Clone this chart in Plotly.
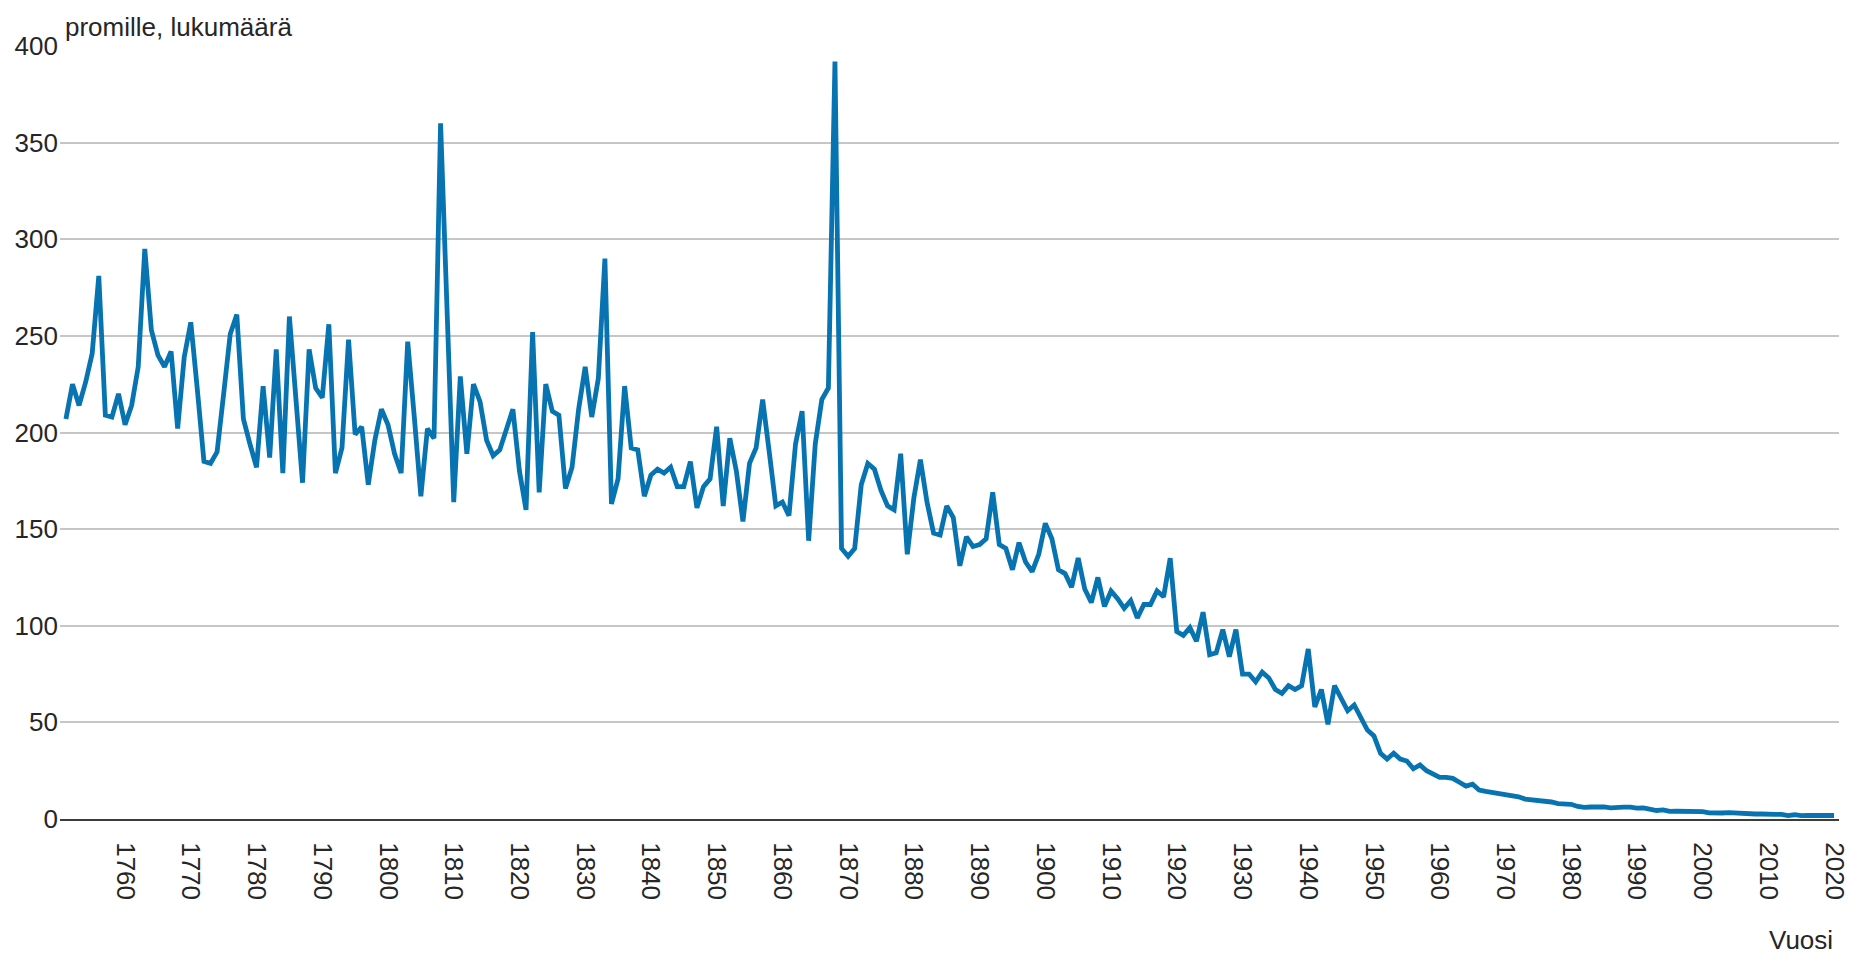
import plotly.graph_objects as go

years = list(range(1751, 2021))

values = [
    # 1751-1760
    207, 225, 214, 226, 241, 281, 209, 208, 220, 204,
    # 1761-1770
    214, 234, 295, 253, 240, 234, 242, 202, 239, 257,
    # 1771-1780
    222, 185, 184, 190, 220, 251, 261, 207, 194, 182,
    # 1781-1790
    224, 187, 243, 179, 260, 218, 174, 243, 223, 218,
    # 1791-1800
    256, 179, 192, 248, 199, 203, 173, 196, 212, 204,
    # 1801-1810
    189, 179, 247, 208, 167, 202, 197, 360, 262, 164,
    # 1811-1820
    229, 189, 225, 216, 196, 188, 191, 201, 212, 180,
    # 1821-1830
    160, 252, 169, 225, 211, 209, 171, 182, 212, 234,
    # 1831-1840
    208, 228, 290, 163, 176, 224, 192, 191, 167, 178,
    # 1841-1850
    181, 179, 182, 172, 172, 185, 161, 172, 176, 203,
    # 1851-1860
    162, 197, 180, 154, 184, 192, 217, 190, 162, 164,
    # 1861-1870
    157, 194, 211, 144, 194, 217, 223, 392, 140, 136,
    # 1871-1880
    140, 173, 184, 181, 170, 162, 160, 189, 137, 166,
    # 1881-1890
    186, 164, 148, 147, 162, 156, 131, 146, 141, 142,
    # 1891-1900
    145, 169, 142, 140, 129, 143, 133, 128, 137, 153,
    # 1901-1910
    145, 129, 127, 120, 135, 119, 112, 125, 110, 118,
    # 1911-1920
    114, 109, 113, 104, 111, 111, 118, 115, 135, 97,
    # 1921-1930
    95, 99, 92, 107, 85, 86, 98, 84, 98, 75,
    # 1931-1940
    75, 71, 76, 73, 67, 65, 69, 67, 69, 88,
    # 1941-1950
    58, 67, 49, 69, 63, 56, 59, 52, 46, 43,
    # 1951-1960
    34, 31, 34, 31, 30, 26, 28, 25, 23, 21.5,
    # 1961-1970
    21.5, 21, 19, 17, 18, 15, 14.3, 13.7, 13.4, 13,
    # 1971-1980
    12.3, 11.5, 10.3, 10, 9.5, 9, 8.8, 8, 7.6, 7.6,
    # 1981-1990
    6.5, 6, 6.2, 6.5, 6.3, 5.8, 6.2, 6.1, 6.1, 5.6,
    # 1991-2000
    5.8, 5.2, 4.4, 4.7, 3.9, 4.0, 3.9, 4.2, 3.6, 3.8,
    # 2001-2010
    3.2, 3.0, 3.1, 3.3, 3.0, 2.8, 2.7, 2.6, 2.6, 2.3,
    # 2011-2020
    2.4, 2.4, 1.8, 2.2, 1.7, 1.9, 2.0, 2.1, 2.1, 1.8,
]
assert len(values) == len(years)

x_ticks = list(range(1760, 2021, 10))
y_ticks = list(range(0, 401, 50))

y_title = "promille, lukumäärä"
x_title = "Vuosi"

FONT = "Arial, 'Liberation Sans', sans-serif"
TXT = "#262626"

fig = go.Figure()
fig.add_trace(go.Scatter(
    x=years, y=values, mode="lines",
    line=dict(color="#0774b1", width=4.8),
    hoverinfo="x+y", showlegend=False,
))

fig.update_layout(
    width=1848, height=946,
    margin=dict(l=52, r=6, t=38, b=135),
    paper_bgcolor="white", plot_bgcolor="white",
    font=dict(family=FONT, size=26, color=TXT),
    xaxis=dict(
        range=[1750.1, 2020.75],
        tickvals=x_ticks, ticktext=[str(t) for t in x_ticks],
        tickangle=90, showgrid=False, zeroline=False,
        showline=True, linecolor="#3c3c3c", linewidth=2,
        ticks="", ticklabelstandoff=16, ticklabeloverflow="allow",
        tickfont=dict(family=FONT, size=26, color=TXT),
    ),
    yaxis=dict(
        range=[0, 400], tickvals=y_ticks,
        showgrid=True, gridcolor="#c6c6c6", gridwidth=1.6,
        zeroline=False, showline=False, ticks="",
        ticklabelstandoff=1,
        tickfont=dict(family=FONT, size=26, color=TXT),
    ),
    annotations=[
        dict(text=y_title, xref="paper", yref="paper", x=0.0017, y=1.0246,
             xanchor="left", yanchor="middle", showarrow=False,
             font=dict(family=FONT, size=26, color=TXT)),
        dict(text=x_title, xref="paper", yref="paper", x=1, y=-0.156,
             xanchor="right", yanchor="middle", showarrow=False, xshift=-4,
             font=dict(family=FONT, size=26, color=TXT)),
    ],
)

fig.write_html("out.html")
